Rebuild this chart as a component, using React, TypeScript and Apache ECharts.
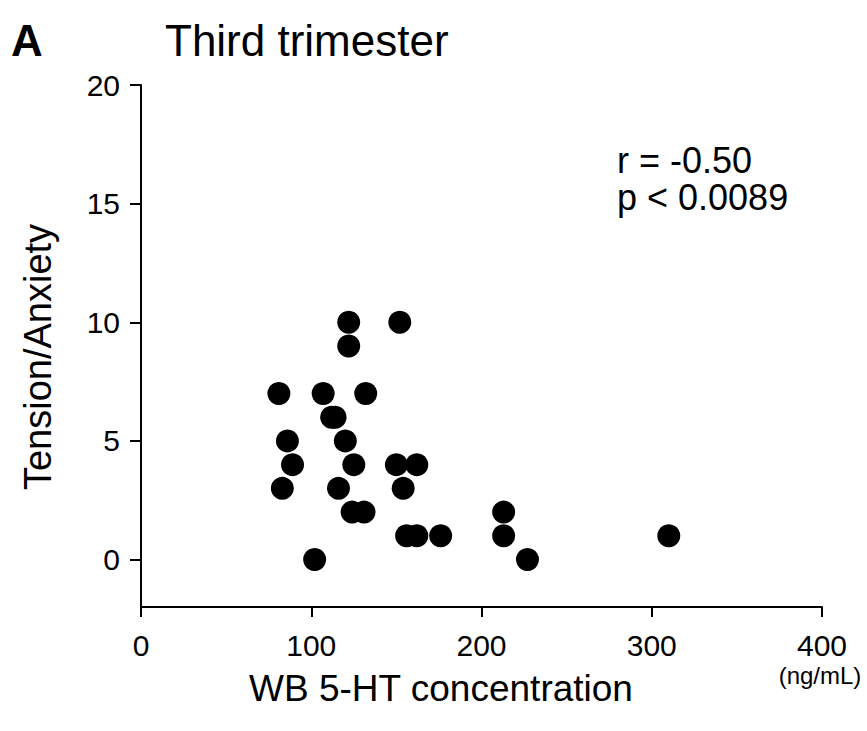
import React, { useEffect, useRef } from "react";
import * as echarts from "echarts";

const concentration: number[] = [81, 107, 132, 112, 114, 86, 120, 89, 125, 150, 162, 83, 116, 154, 124, 131, 213, 156, 162, 176, 213, 310, 102, 227, 122, 152, 122];
const tension: number[] = [7, 7, 7, 6, 6, 5, 5, 4, 4, 4, 4, 3, 3, 3, 2, 2, 2, 1, 1, 1, 1, 1, 0, 0, 10, 10, 9];
const yTicks: number[] = [0, 5, 10, 15, 20];
const xTicks: number[] = [0, 100, 200, 300, 400];
const stats: string[] = ["r = -0.50", "p < 0.0089"];

const FONT = "'Liberation Sans', Arial, Helvetica, sans-serif";

export default function App() {
  const ref = useRef<HTMLDivElement>(null);
  useEffect(() => {
    document.body.style.margin = "0";
    const chart = echarts.init(ref.current!, undefined, { renderer: "svg" });
    const points = concentration.map((x, i) => [x, tension[i]]);
    chart.setOption({
      animation: false,
      backgroundColor: "#ffffff",
      textStyle: { fontFamily: FONT, color: "#000" },
      grid: { left: 141, right: 45, top: 85, bottom: 124 },
      xAxis: {
        type: "value",
        min: xTicks[0],
        max: xTicks[xTicks.length - 1],
        interval: 100,
        axisLine: { show: true, onZero: false, lineStyle: { color: "#000", width: 2 } },
        axisTick: { show: true, length: 10, lineStyle: { color: "#000", width: 2 } },
        axisLabel: { fontSize: 30, color: "#000", margin: 23, fontFamily: FONT },
        splitLine: { show: false },
      },
      yAxis: {
        type: "value",
        min: -2,
        max: 20,
        axisLine: { show: true, onZero: false, lineStyle: { color: "#000", width: 2 } },
        axisTick: { show: true, length: 11, customValues: yTicks, lineStyle: { color: "#000", width: 2 } },
        axisLabel: { fontSize: 30, color: "#000", margin: 21, customValues: yTicks, fontFamily: FONT },
        splitLine: { show: false },
      },
      series: [
        {
          type: "scatter",
          data: points,
          symbol: "circle",
          symbolSize: 23,
          itemStyle: { color: "#000", opacity: 1 },
        },
      ],
      graphic: [
        { type: "text", x: 11, y: 40, style: { text: "A", font: `bold 44px ${FONT}`, fill: "#000", textVerticalAlign: "middle" } },
        { type: "text", x: 165, y: 40, style: { text: "Third trimester", font: `44px ${FONT}`, fill: "#000", textVerticalAlign: "middle" } },
        { type: "text", x: 617, y: 160, style: { text: stats[0], font: `36px ${FONT}`, fill: "#000", textVerticalAlign: "middle" } },
        { type: "text", x: 617, y: 197, style: { text: stats[1], font: `36px ${FONT}`, fill: "#000", textVerticalAlign: "middle" } },
        { type: "text", x: 38, y: 357, rotation: Math.PI / 2, style: { text: "Tension/Anxiety", font: `38px ${FONT}`, fill: "#000", textAlign: "center", textVerticalAlign: "middle" } },
        { type: "text", x: 441, y: 688, style: { text: "WB 5-HT concentration", font: `37px ${FONT}`, fill: "#000", textAlign: "center", textVerticalAlign: "middle" } },
        { type: "text", x: 820, y: 675, style: { text: "(ng/mL)", font: `24px ${FONT}`, fill: "#000", textAlign: "center", textVerticalAlign: "middle" } },
      ],
    });
    return () => chart.dispose();
  }, []);
  return <div ref={ref} style={{ width: 867, height: 731 }} />;
}
